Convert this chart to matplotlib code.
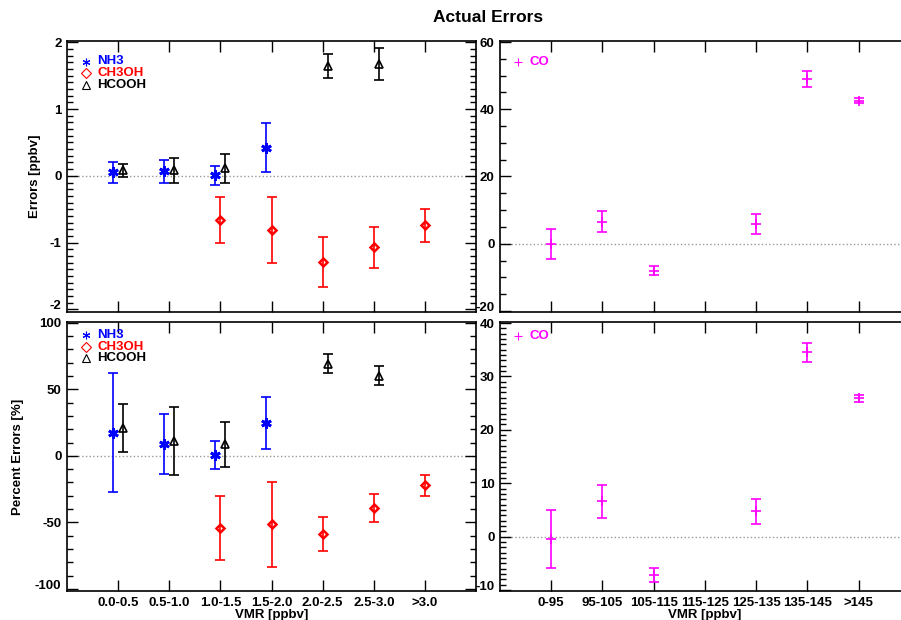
import numpy as np
import matplotlib
matplotlib.use("Agg")
import matplotlib.pyplot as plt
from matplotlib.ticker import MultipleLocator

plt.rcParams.update({'font.family': ['Liberation Sans', 'DejaVu Sans'],
                     'font.weight': 'bold',
                     'axes.unicode_minus': False})

nan = np.nan

# categories
cats_left = ["0.0-0.5", "0.5-1.0", "1.0-1.5", "1.5-2.0", "2.0-2.5", "2.5-3.0", ">3.0"]
cats_right = ["0-95", "95-105", "105-115", "115-125", "125-135", "135-145", ">145"]

# absolute errors [ppbv]
nh3_err = [0.05, 0.07, 0.01, 0.42, nan, nan, nan]
nh3_err_unc = [0.15, 0.17, 0.14, 0.37, nan, nan, nan]
ch3oh_err = [nan, nan, -0.66, -0.81, -1.29, -1.07, -0.74]
ch3oh_err_unc = [nan, nan, 0.34, 0.49, 0.37, 0.31, 0.25]
hcooh_err = [0.08, 0.08, 0.11, nan, 1.65, 1.68, nan]
hcooh_err_unc = [0.09, 0.19, 0.22, nan, 0.18, 0.24, nan]
co_err = [-0.1, 6.6, -8.0, nan, 5.9, 48.9, 42.6]
co_err_unc = [4.4, 3.0, 1.4, nan, 3.0, 2.4, 0.75]

# percent errors [%]
nh3_pct = [17.5, 8.6, 0.6, 24.6, nan, nan, nan]
nh3_pct_unc = [44.9, 22.5, 10.4, 19.7, nan, nan, nan]
ch3oh_pct = [nan, nan, -54.5, -51.5, -58.4, -39.3, -22.0]
ch3oh_pct_unc = [nan, nan, 24.0, 32.0, 12.7, 10.4, 7.8]
hcooh_pct = [21.0, 11.3, 8.6, nan, 69.2, 60.3, nan]
hcooh_pct_unc = [18.0, 25.7, 17.0, nan, 7.0, 7.4, nan]
co_pct = [-0.4, 6.6, -7.2, nan, 4.7, 34.5, 25.9]
co_pct_unc = [5.4, 3.15, 1.4, nan, 2.4, 1.75, 0.6]

BLUE, RED, BLACK, MAG = '#0000ff', '#ff0000', '#000000', '#ff00ff'
ASTER = (6, 2, 0)

W, H = 901, 620
fig = plt.figure(figsize=(W / 100, H / 100), dpi=100)


def px_axes(x0, y0, x1, y1):
    ax = fig.add_axes([x0 / W, 1 - y1 / H, (x1 - x0) / W, (y1 - y0) / H])
    ax._px = (x1 - x0, y1 - y0)
    return ax


ax_tl = px_axes(67, 41, 476, 312)
ax_bl = px_axes(67, 322, 476, 591)
ax_tr = px_axes(500, 41, 910, 312)
ax_br = px_axes(500, 322, 910, 591)

x = np.arange(1, 8)
off = 0.1


def style(ax, ylim, major, minor, labels=None, right=True):
    ax.set_xlim(0, 8)
    ax.set_ylim(*ylim)
    ax.set_xticks(x)
    ax.yaxis.set_major_locator(MultipleLocator(major))
    ax.yaxis.set_minor_locator(MultipleLocator(minor))
    ax.tick_params(which='both', direction='in', top=True, right=right,
                   labelsize=9.5, pad=4, width=1)
    ax.tick_params(which='major', length=8)
    ax.tick_params(which='minor', length=4)
    ax.tick_params(axis='x', which='minor', bottom=False, top=False)
    if labels is None:
        ax.set_xticklabels([])
    else:
        ax.set_xticklabels(labels)
        ax.set_xlabel("VMR [ppbv]", fontsize=9.5, fontweight='bold', labelpad=0)
    for s in ax.spines.values():
        s.set_linewidth(1.2)
    ax.axhline(0, color='#999999', ls=':', lw=1, zorder=0)


def eb(ax, xs, ys, unc, color, marker, ms, mew):
    ax.errorbar(xs, ys, yerr=unc, fmt='none', ecolor=color, elinewidth=1.2,
                capsize=3.5, capthick=1.2)
    ax.plot(xs, ys, ls='None', marker=marker, mfc='none', mec=color, ms=ms, mew=mew)


def legend(ax, items, top, dy=11.7):
    w, h = ax._px
    for i, (m, c, t) in enumerate(items):
        yy = 1 - (top + dy * i) / h
        ax.plot([18.5 / w], [yy], transform=ax.transAxes, ls='None', marker=m,
                mfc='none', mec=c, ms=5.5, mew=0.8, clip_on=False)
        ax.text(30 / w, yy, t, transform=ax.transAxes, color=c, fontsize=9.5,
                fontweight='bold', ha='left', va='center')


for ax, a, b, c, d, e, f, top in [
        (ax_tl, nh3_err, nh3_err_unc, ch3oh_err, ch3oh_err_unc, hcooh_err, hcooh_err_unc, 20.5),
        (ax_bl, nh3_pct, nh3_pct_unc, ch3oh_pct, ch3oh_pct_unc, hcooh_pct, hcooh_pct_unc, 13)]:
    eb(ax, x - off, a, b, BLUE, ASTER, 7.5, 2)
    eb(ax, x, c, d, RED, 'D', 4.4, 1.8)
    eb(ax, x + off, e, f, BLACK, '^', 6, 1.2)
    legend(ax, [(ASTER, BLUE, 'NH3'), ('D', RED, 'CH3OH'), ('^', BLACK, 'HCOOH')], top)

eb(ax_tr, x, co_err, co_err_unc, MAG, '+', 6.5, 1.2)
eb(ax_br, x, co_pct, co_pct_unc, MAG, '+', 6.5, 1.2)
legend(ax_tr, [('+', MAG, 'CO')], 21)
legend(ax_br, [('+', MAG, 'CO')], 14)

style(ax_tl, (-2.04, 2.02), 1, 0.1)
style(ax_bl, (-101.5, 100.5), 50, 10, cats_left)
style(ax_tr, (-20.3, 60.3), 20, 5, right=False)
style(ax_br, (-10.2, 40.2), 10, 1, cats_right, right=False)

ax_tl.set_ylabel("Errors [ppbv]", fontsize=9.5, fontweight='bold', labelpad=6)
ax_bl.set_ylabel("Percent Errors [%]", fontsize=9.5, fontweight='bold', labelpad=8)

fig.text(488 / W, 1 - 17 / H, "Actual Errors", ha='center', va='center',
         fontsize=12.5, fontweight='bold')

# lift the lowest y label of each panel a little, as in the original
fig.canvas.draw()
for ax in (ax_tl, ax_bl, ax_tr, ax_br):
    lo = ax.get_ylim()[0]
    step = ax.yaxis.get_major_locator()()
    first = min(v for v in step if v >= lo)
    for tk in ax.yaxis.get_major_ticks():
        if np.isclose(tk.get_loc(), first):
            tk.label1.set_verticalalignment('baseline')

fig.savefig("out.png", dpi=100)
